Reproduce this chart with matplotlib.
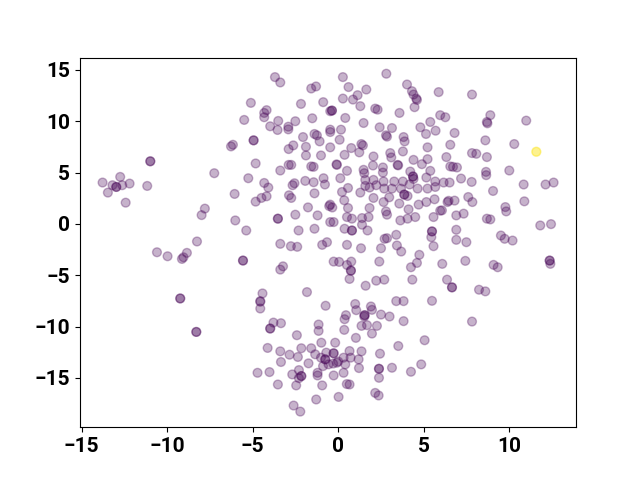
import matplotlib.pyplot as plt
import numpy as np

plt.rcParams['font.family'] = ['Roboto', 'DejaVu Sans']

# embedding coordinates (dark dots = repeated points)
xs = [
    -10.99, -10.99, -13.78, -13.2, -12.98, -12.98, -12.75, -12.63, -12.2, -13.47,
    -12.43, -11.17, -7.8, -7.99, -8.26, -10.6, -9.98, -9.14, -9.05, -8.85,
    -9.24, -9.24, -8.30, -8.30, -7.25,
    # upper left block
    -3.70, -3.39, -1.58, -1.30, -5.11, -2.18, -0.88, -4.19, -4.33, -4.33,
    -5.50, -3.51, -2.51, -1.52, -3.98, -3.55, -2.92, -2.92, -0.47, -0.47,
    -2.06, -1.39, -1.25, -1.09, -4.95, -4.95, -6.27, -6.16, -2.90, -2.63,
    -1.89, -1.89, -1.01, -0.47, -4.83, -2.90, -2.75, -1.58, -1.44, -3.39,
    -5.26, -4.33, -2.56, -1.93, -1.44, -0.86,
    # middle left block
    -4.09, -6.06, -4.83, -4.49, -4.19, -2.67, -0.78, -2.88, -2.75, -1.39,
    -0.53, -1.77, -3.53, -3.53, -6.02, -2.51, -1.21, -5.38, -2.32, -1.39,
    -0.47, -3.39, -2.77, -2.40, -0.94, -0.66, -5.57, -5.57, -3.39, -3.23,
    -4.43, -4.56, -1.83,
    # lower left block
    -4.56, -4.56, -0.74, -3.79, -3.35, -3.98, -3.98, -1.15, -1.15, -2.42,
    -0.99, -4.13, -3.39, -2.85, -2.36, -2.16, -1.58, -1.35, -1.01, -0.70,
    -0.76, -0.76, -0.89, -0.57, -3.35, -1.74, -4.72, -4.02, -3.53, -2.69,
    -2.30, -2.16, -2.16, -2.30, -2.46, -1.21, -1.21, -0.94, -1.29, -2.61,
    -2.22,
    # lower right block
    3.39, 3.82, 5.48, 0.45, 0.37, 1.05, 1.91, 1.97, 1.54, 1.54,
    1.52, 2.50, 3.0, 3.82, 1.36, 1.68, 2.26, 0.35, 1.97, 1.03,
    -0.18, 5.05, 3.51, -0.27, -0.27, 0.66, 1.36, 2.44, 0.31, 0.72,
    1.19, 0.0, -0.3, -0.08, 0.41, 1.21, 2.38, 2.38, 2.38, 3.14,
    4.25, 4.85, 0.31, -0.27, 0.66, 0.5, 0.02, 2.16, 2.36, 7.82,
    0.99,
    # upper middle block
    0.27, 0.6, 2.81, 4.02, 4.31, 4.40, 4.56, 4.60, 5.87, 0.27,
    0.86, 1.13, 1.64, 1.29, -0.37, -0.37, 2.16, 2.30, 3.58, 4.46,
    0.41, 1.48, 2.42, 3.14, 2.79, 2.85, 3.82, 3.88, 4.80, 5.38,
    5.13, 5.69, 5.96, 6.26, 0.16, -0.47, 0.08, 1.35, 1.44, 0.76,
    1.23, 0.37, 2.06, 3.04, 3.10, 3.78, 4.40, 5.22, 5.22, 4.89,
    5.38, 6.32, 6.55, -0.08, -0.1, 0.51, 1.48, 2.03, 2.61, 2.61,
    3.47, 3.5, 4.21, 4.37, 4.37, 0.12, 1.52, 1.58, 2.06, 2.65,
    3.27, 3.78, 4.40, 5.15, 5.67,
    # centre block
    1.58, 1.83, 2.22, 2.69, 3.14, 3.67, 3.86, 3.86, 4.05, 4.17,
    4.64, 5.22, 5.67, 6.16, 0.22, 0.57, 1.29, 2.06, 2.65, 2.98,
    3.57, 4.11, 4.70, 5.15, 5.63, 5.96, 0.35, -0.47, -0.35, 0.57,
    1.83, 0.51, 0.80, 1.39, 1.77, 2.79, 2.85, 3.63, 4.05, 4.50,
    5.57, -0.27, 0.37, 0.80, 0.80, 1.39, 1.71, 2.71, 2.85, 3.39,
    3.43, 3.68, 2.50, 1.33, 0.51, 5.48, 5.48, 5.44, 5.57, 4.74,
    4.60, 4.25, 6.08, 2.40, -0.27, 0.05, 0.76, 0.51, 0.74, 0.74,
    0.66, 1.60, 2.22, 2.69, 4.33,
    # right block
    6.51, 7.18, 7.80, 8.65, 9.05, 10.84, 12.12, 12.59, 6.39, 6.45,
    6.80, 7.60, 7.84, 10.88, 6.06, 6.90, 7.33, 9.77, 9.82, 8.69,
    8.89, 6.90, 6.90, 7.49, 9.51, 9.73, 10.19, 11.81, 12.44, 7.43,
    9.08, 9.32, 12.36, 12.36, 12.4, 6.36, 6.65, 6.65, 8.23, 8.60,
    7.82, 8.89, 8.69, 8.72, 10.99, 6.80, 8.60, 10.29, 11.58, 11.58,
    6.55, 7.82, 8.07, 8.69, 6.71, 6.94, 8.64, 10.0,
]
ys = [
    6.1, 6.1, 4.03, 3.77, 3.6, 3.6, 4.58, 3.77, 3.93, 3.05,
    2.07, 3.7, 1.49, 0.86, -1.71, -2.76, -3.15, -3.41, -3.25, -2.82,
    -7.26, -7.26, -10.52, -10.52, 4.94,
    14.3, 13.78, 13.19, 13.39, 11.79, 11.69, 11.86, 11.08, 10.81, 10.39,
    10.13, 10.03, 10.0, 10.29, 9.51, 9.15, 9.47, 9.21, 10.98, 9.18,
    8.46, 8.76, 8.63, 8.04, 8.14, 8.14, 7.55, 7.71, 7.29, 7.65,
    7.51, 6.67, 6.67, 7.46, 5.89, 5.75, 5.75, 5.6, 5.56, 5.2,
    4.45, 3.99, 3.96, 4.19, 4.06, 4.45,
    3.54, 2.92, 2.17, 2.53, 2.69, 3.77, 3.84, 2.79, 2.53, 2.98,
    1.74, 1.61, 0.51, 0.51, 0.34, 0.9, 0.83, -0.64, -0.64, -0.47,
    0.18, -1.94, -2.17, -2.23, -2.04, -1.78, -3.57, -3.57, -4.45, -4.13,
    -6.77, -7.52, -6.64,
    -7.58, -8.24, -7.97, -9.61, -9.67, -10.19, -10.19, -9.8, -10.42, -10.84,
    -11.57, -12.08, -12.41, -12.74, -12.96, -12.11, -12.11, -12.7, -13.03, -12.54,
    -13.19, -13.19, -13.85, -13.68, -13.45, -13.58, -14.5, -14.43, -15.64, -14.66,
    -14.24, -14.82, -14.82, -15.02, -15.73, -14.76, -14.5, -15.73, -17.1, -17.69,
    -18.28,
    -7.52, -7.52, -7.49, -8.89, -9.28, -8.4, -8.04, -8.37, -8.89, -8.89,
    -9.02, -8.83, -9.02, -9.47, -9.93, -9.86, -9.93, -10.32, -10.68, -11.1,
    -11.57, -11.33, -11.89, -12.6, -12.6, -12.38, -12.41, -12.64, -13.03, -13.03,
    -13.19, -13.4, -13.6, -13.52, -13.68, -14.04, -14.11, -14.11, -14.99, -14.01,
    -14.4, -13.68, -14.5, -14.76, -15.64, -15.6, -16.85, -16.46, -16.71, -9.51,
    -7.8,
    14.3, 13.33, 14.63, 13.58, 12.93, 12.6, 12.21, 12.08, 12.84, 12.21,
    12.11, 12.54, 13.09, 11.47, 11.04, 11.04, 11.23, 11.13, 10.81, 11.37,
    10.32, 9.83, 9.41, 9.34, 8.63, 8.5, 8.46, 8.04, 9.41, 9.93,
    8.76, 9.08, 10.59, 10.39, 9.18, 8.95, 8.2, 7.78, 7.65, 7.39,
    6.97, 6.73, 6.57, 6.9, 6.48, 7.06, 6.24, 7.46, 6.31, 5.82,
    5.17, 6.51, 5.6, 5.75, 5.8, 5.17, 5.27, 5.69, 5.5, 5.0,
    5.75, 5.7, 5.1, 4.62, 4.62, 4.45, 4.94, 4.29, 4.29, 4.13,
    4.13, 4.13, 4.38, 4.52, 4.13,
    3.7, 3.54, 3.77, 3.44, 3.44, 3.44, 2.86, 2.86, 2.72, 3.84,
    3.44, 3.44, 3.6, 4.03, 3.11, 3.5, 3.05, 2.53, 2.13, 2.59,
    1.98, 1.42, 1.88, 2.13, 2.4, 1.29, 2.3, 1.88, 1.6, 1.55,
    1.55, 0.67, 0.51, 0.57, 0.67, 1.22, 0.9, 0.34, 0.51, 0.67,
    0.67, 0.18, -0.47, -0.64, -0.64, -0.08, -0.64, -1.45, -1.39, -1.06,
    -2.1, -2.69, -2.37, -2.37, -2.04, -0.73, -0.73, -1.29, -2.17, -3.01,
    -3.8, -4.22, -3.89, -3.67, -3.67, -3.7, -3.67, -4.0, -4.55, -4.55,
    -5.36, -6.02, -5.53, -5.43, -5.43,
    4.03, 4.42, 4.09, 4.75, 3.21, 3.84, 3.84, 4.03, 2.13, 2.25,
    2.27, 2.62, 2.13, 2.2, 1.32, 0.83, 1.0, 1.64, 1.22, 0.51,
    0.44, -0.57, -1.55, -1.78, -1.13, -1.45, -1.62, -0.15, -0.02, -3.6,
    -3.99, -4.22, -3.57, -3.57, -3.89, -5.43, -6.18, -6.18, -6.41, -6.57,
    12.6, 10.59, 9.93, 9.8, 10.06, 8.86, 8.14, 7.78, 7.03, 7.03,
    7.71, 6.9, 6.83, 6.51, 5.56, 5.5, 5.07, 5.2,
]
# class value per point: the lone yellow dot belongs to the second class
labels = [1 if x == 11.58 else 0 for x in xs]

fig, ax = plt.subplots(figsize=(6.4, 4.8), dpi=100)
ax.scatter(xs, ys, c=labels, cmap='viridis', alpha=0.3, s=40)
ax.set_xlim(-15.1, 13.9)
ax.set_ylim(-19.8, 16.2)
ax.set_xticks([-15, -10, -5, 0, 5, 10])
ax.set_yticks([-15, -10, -5, 0, 5, 10, 15])
for lbl in ax.get_xticklabels() + ax.get_yticklabels():
    lbl.set_fontsize(15)
    lbl.set_fontweight('bold')

fig.savefig('out.png')
